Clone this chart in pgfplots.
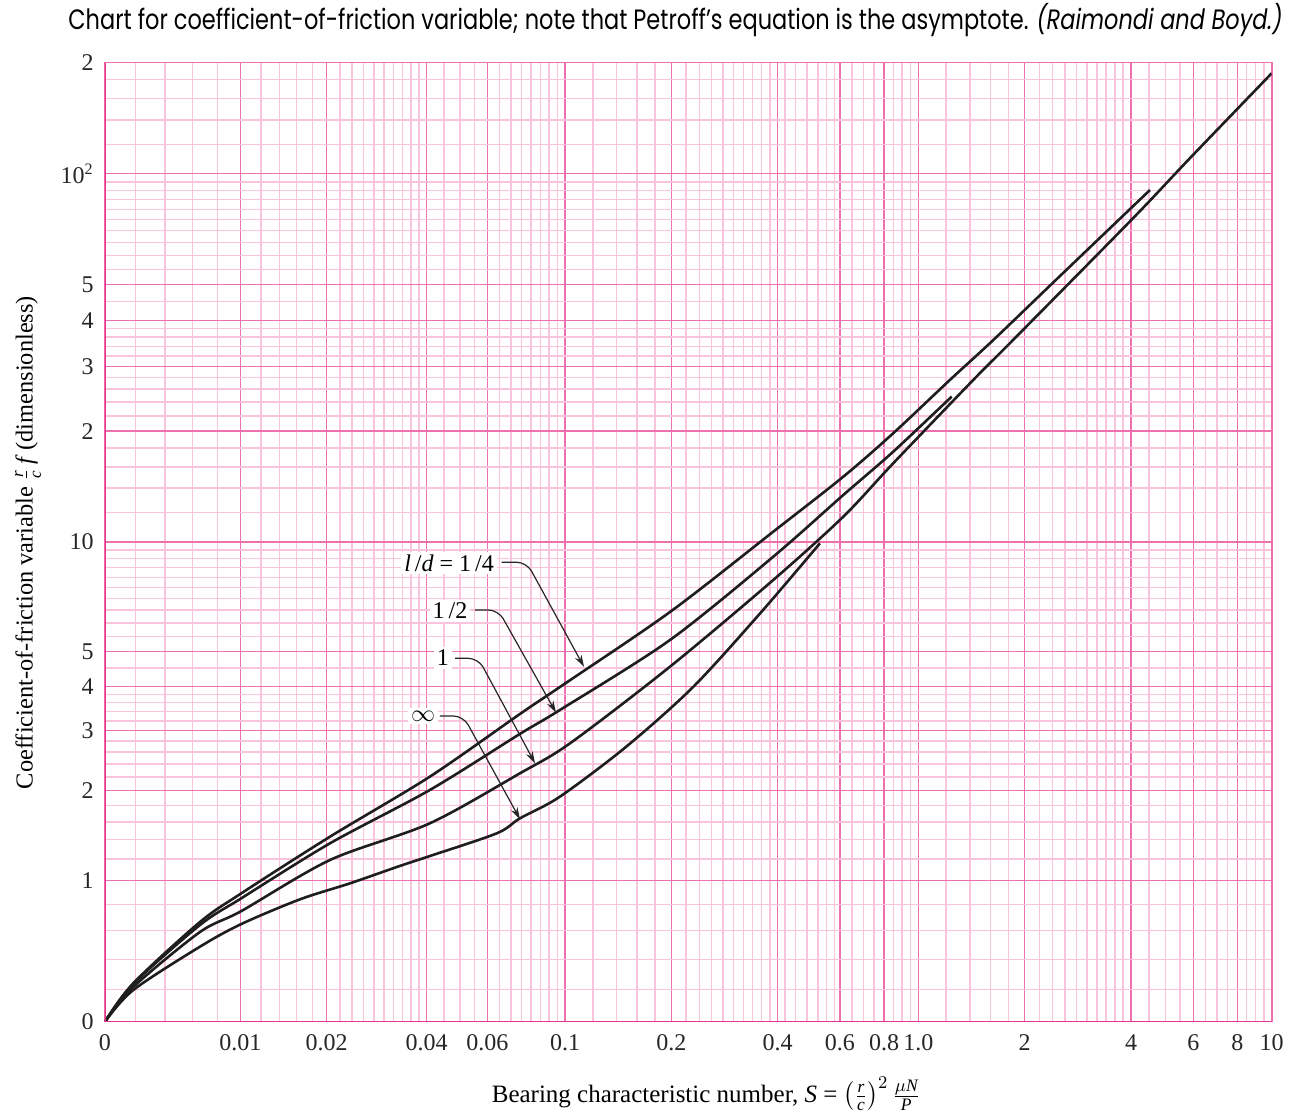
\documentclass[border=0pt]{standalone}
\usepackage{amsmath}
\usepackage{graphicx}
\usepackage{fontspec}
\setmainfont{Liberation Serif}
\newfontfamily\titlefont{Poppins}
\usepackage{pgfplots}
\pgfplotsset{compat=1.18}
\usetikzlibrary{arrows.meta}
\definecolor{gridmaj}{RGB}{238,112,172}
\definecolor{gridmin}{RGB}{249,196,220}
\definecolor{framecol}{RGB}{232,48,140}
\definecolor{curvecol}{RGB}{30,30,30}

% positions on the chart: u = asinh(100 S), w = asinh(v)
\makeatletter
\newcommand\mkasinh[2]{%
  \gdef#1{}%
  \foreach \v in {#2}{%
    \pgfmathparse{ln(\v)+ln(1+sqrt(1+1/\v/\v))}%
    \ifx#1\@empty\xdef#1{\pgfmathresult}\else\xdef#1{#1,\pgfmathresult}\fi
  }%
}
\makeatother
\mkasinh\xmaj{1,2,4,6,10,20,40,60,80,100,200,400,600,800,1000}
\mkasinh\xmnr{0.2,0.4,0.6,0.8,1.2,1.4,1.6,1.8,2.2,2.4,2.6,2.8,3,3.2,3.4,3.6,3.8,4.5,5,5.5,6.5,7,7.5,8,8.5,9,9.5,12,14,16,18,22,24,26,28,30,32,34,36,38,42,45,48.5,52,55,58,65,70,75,85,90,95,120,140,160,180,220,240,260,280,300,320,340,360,380,450,500,550,650,700,750,850,900,950}
\mkasinh\ymaj{1,2,3,4,5,10,20,30,40,50,100,200}
\mkasinh\ymnr{0.2,0.4,0.6,0.8,1.2,1.4,1.6,1.8,2.2,2.4,2.6,2.8,3.2,3.4,3.6,3.8,4.5,5.5,6,6.5,7,7.5,8,8.5,9,9.5,12,14,16,18,22,24,26,28,32,34,36,38,45,55,60,65,70,75,80,85,90,95,120,140,160,180}
\edef\tmp{\noexpand\pgfplotsset{gridsetup/.style={xtick={0,\xmaj},minor xtick={\xmnr},ytick={0,\ymaj},minor ytick={\ymnr}}}}
\tmp

\pgfplotsset{
  curve/.style={curvecol, line width=1.3pt, smooth, tension=0.5, no markers},
  every major grid/.style={color=gridmaj, line width=0.75pt},
  every minor grid/.style={color=gridmin, line width=0.75pt},
}
\tikzset{
  leader/.style={black!85, line width=0.6pt, rounded corners=5pt, -{Stealth[length=6pt,width=3.6pt]}},
  lbl/.style={fill=white, inner sep=1.5pt, font=\fontsize{12}{14}\selectfont},
}

\begin{document}
\begin{tikzpicture}
\useasboundingbox (-52.5pt,-48.65pt) rectangle (599pt,510.85pt);
\begin{axis}[
  at={(0,0)}, anchor=south west,
  scale only axis, width=583.35pt, height=479.5pt,
  xmin=0, xmax=7.6009, ymin=0, ymax=5.9915,
  gridsetup,
  xticklabels={0,0.01,0.02,0.04,0.06,0.1,0.2,0.4,0.6,0.8,1.0,2,4,6,8,10},
  yticklabels={0,1,2,3,4,5,10,2,3,4,5,10\textsuperscript{2},2},
  grid=both,
  major grid style={color=gridmaj, line width=0.75pt},
  minor grid style={color=gridmin, line width=0.75pt},
  major tick length=0pt, minor tick length=0pt,
  axis line style={color=gridmaj, line width=0.8pt},
  tick label style={font=\fontsize{12}{14}\selectfont, black!85},
  xticklabel style={yshift=-3pt},
  yticklabel style={xshift=-2.2pt},
  every axis title shift=0pt,
  title={\resizebox{607pt}{10.7pt}{\titlefont Chart for coefficient-of-friction variable; note that Petroff’s equation is the asymptote. \smash{\textit{(Raimondi and Boyd.)}}}},
  title style={at={(axis description cs:-0.0317,1.0351)}, anchor=base west, inner sep=0pt},
  xlabel={Bearing characteristic number, \textit{S} = $\left(\frac{\textit{r}}{\textit{c}}\right)^{2}\frac{\mu \textit{N}}{\textit{P}}$},
  xlabel style={at={(axis description cs:0.5151,-0.0840)}, anchor=base, inner sep=0pt, font=\fontsize{12.5}{14}\selectfont},
  ylabel={Coefficient-of-friction variable $\frac{\textit{r}}{\textit{c}}$\,\textit{f}\,(dimensionless)},
  ylabel style={at={(axis description cs:-0.066,0.4997)}, anchor=center, font=\fontsize{12.2}{14}\selectfont},
]
% l/d = infinity
\addplot[curve] table[x expr={ln(100*\thisrowno{0}+sqrt((100*\thisrowno{0})^2+1))}, y expr={ln(\thisrowno{1}+sqrt(\thisrowno{1}^2+1))}] {
S v
0 0
0.00185 0.199
0.00659 0.486
0.0101 0.649
0.0164 0.841
0.0237 0.977
0.0334 1.134
0.0409 1.230
0.0638 1.468
0.0743 1.641
0.0966 1.917
0.149 2.697
0.231 3.993
0.357 6.375
0.527 9.906
};
% l/d = 1
\addplot[curve] table[x expr={ln(100*\thisrowno{0}+sqrt((100*\thisrowno{0})^2+1))}, y expr={ln(\thisrowno{1}+sqrt(\thisrowno{1}^2+1))}] {
S v
0 0
0.00185 0.2185
0.00659 0.590
0.0101 0.748
0.0205 1.191
0.0409 1.582
0.0743 2.254
0.1032 2.759
0.1983 4.54
0.3888 7.866
0.6135 11.707
0.8495 16.357
1.431 27.55
1.855 35.37
4.058 75.8
5.873 110.2
10.0 187.2
};
% l/d = 1/2
\addplot[curve] table[x expr={ln(100*\thisrowno{0}+sqrt((100*\thisrowno{0})^2+1))}, y expr={ln(\thisrowno{1}+sqrt(\thisrowno{1}^2+1))}] {
S v
0 0
0.00185 0.2377
0.00659 0.6416
0.0101 0.850
0.0205 1.360
0.0409 2.009
0.0743 2.936
0.0966 3.434
0.1983 5.382
0.3888 9.108
0.6135 13.411
0.8495 17.59
1.243 24.82
};
% l/d = 1/4
\addplot[curve] table[x expr={ln(100*\thisrowno{0}+sqrt((100*\thisrowno{0})^2+1))}, y expr={ln(\thisrowno{1}+sqrt(\thisrowno{1}^2+1))}] {
S v
0 0
0.00185 0.242
0.00659 0.664
0.0101 0.891
0.0205 1.431
0.0409 2.203
0.0743 3.346
0.0966 3.985
0.1983 6.427
0.3888 10.657
0.6135 15.041
0.8495 19.74
1.229 27.55
1.631 35.37
2.515 52.7
4.525 90.29
};
% frame (left and bottom in stronger magenta)
\draw[framecol, line width=1.1pt] (rel axis cs:0,1) -- (rel axis cs:0,0) -- (rel axis cs:1,0);
% annotations
\node[lbl] at (rel axis cs:0.2949,0.4783) {\textit{l}\,/\textit{d} = 1\,/4};
\draw[leader] (rel axis cs:0.3400,0.4791) -- (rel axis cs:0.3614,0.4791) -- (rel axis cs:0.4106,0.3699);
\node[lbl] at (rel axis cs:0.2957,0.4283) {1\,/2};
\draw[leader] (rel axis cs:0.3171,0.4293) -- (rel axis cs:0.3371,0.4293) -- (rel axis cs:0.3866,0.3222);
\node[lbl] at (rel axis cs:0.2897,0.3793) {1};
\draw[leader] (rel axis cs:0.3000,0.3789) -- (rel axis cs:0.3200,0.3789) -- (rel axis cs:0.3686,0.2694);
\node[lbl] at (rel axis cs:0.2726,0.3188) {$\infty$};
\draw[leader] (rel axis cs:0.2871,0.3188) -- (rel axis cs:0.3071,0.3188) -- (rel axis cs:0.3557,0.2111);
\end{axis}
\end{tikzpicture}
\end{document}
